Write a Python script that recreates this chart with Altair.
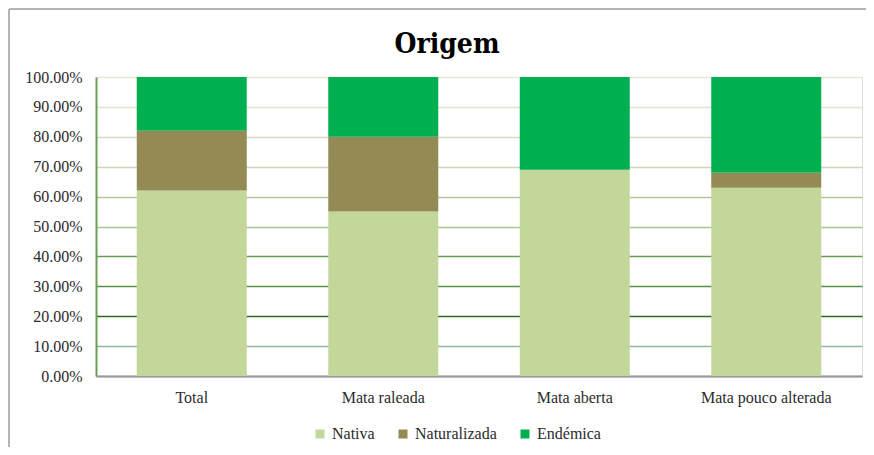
import altair as alt
import pandas as pd

categories = ["Total", "Mata raleada", "Mata aberta", "Mata pouco alterada"]
origins = ["Nativa", "Naturalizada", "Endémica"]
nativa = [0.62, 0.55, 0.69, 0.63]
naturalizada = [0.20, 0.25, 0.00, 0.05]
endemica = [0.18, 0.20, 0.31, 0.32]
colors = ["#c4d79b", "#948a54", "#00b050"]
y_ticks = [0.0, 0.1, 0.2, 0.3, 0.4, 0.5, 0.6, 0.7, 0.8, 0.9, 1.0]
chart_title = "Origem"

rows = []
for series_name, vals in zip(origins, [nativa, naturalizada, endemica]):
    for c, v in zip(categories, vals):
        rows.append({"Categoria": c, "Origem": series_name, "Valor": v})
df = pd.DataFrame(rows)

FONT = "Liberation Serif"
TFONT = "DejaVu Serif Condensed"
LABEL = "#2b2b2b"

grid_cond = [
    {"test": "datum.value > 0.95", "value": "#e3ebd8"},
    {"test": "datum.value > 0.85", "value": "#dbe5cb"},
    {"test": "datum.value > 0.75", "value": "#d3dec0"},
    {"test": "datum.value > 0.65", "value": "#cbd8b4"},
    {"test": "datum.value > 0.55", "value": "#b1c897"},
    {"test": "datum.value > 0.45", "value": "#a6c88c"},
    {"test": "datum.value > 0.35", "value": "#6c9c54"},
    {"test": "datum.value > 0.25", "value": "#579244"},
    {"test": "datum.value > 0.15", "value": "#2e6b1f"},
    {"test": "datum.value > 0.05", "value": "#92b899"},
]

bars = alt.Chart(df).transform_calculate(
    ord="indexof(" + str(origins) + ", datum.Origem)"
).mark_bar(size=110).encode(
    x=alt.X("Categoria:N", sort=categories, title=None,
            scale=alt.Scale(paddingInner=0.42, paddingOuter=0.21),
            axis=alt.Axis(labelAngle=0, ticks=False, tickSize=0, labelPadding=13,
                          labelFont=FONT, labelFontSize=16, labelColor=LABEL,
                          domainColor="#9a9a9a", domainWidth=2, grid=False)),
    y=alt.Y("Valor:Q", stack="zero", title=None,
            scale=alt.Scale(domain=[0, 1], nice=False),
            axis=alt.Axis(values=y_ticks, format=".2%", ticks=False, tickSize=0,
                          labelPadding=14, labelFont=FONT, labelFontSize=16,
                          labelColor=LABEL, domainColor="#6b9e55", domainWidth=2,
                          gridWidth=1.6,
                          gridColor={"condition": grid_cond, "value": "#9a9a9a"})),
    color=alt.Color("Origem:N", sort=origins,
                    scale=alt.Scale(domain=origins, range=colors),
                    legend=alt.Legend(title=None, orient="none", direction="horizontal",
                                      legendX=216, legendY=349, symbolType="square",
                                      symbolSize=81, symbolStrokeWidth=0,
                                      labelFont=FONT, labelFontSize=16, labelColor=LABEL,
                                      labelOffset=4, columnPadding=20, padding=0)),
    order=alt.Order("ord:Q"),
)

one = pd.DataFrame({"t": [chart_title]})

title_text = alt.Chart(one).mark_text(
    font=TFONT, fontSize=28, fontWeight="bold", color="black",
    align="center", baseline="alphabetic"
).encode(x=alt.value(351), y=alt.value(-24), text="t:N")

frame = alt.Chart(one).mark_rule(color="#b4b4b4", strokeWidth=2).encode(
    x=alt.value(-87), y=alt.value(-68), y2=alt.value(375)
)
frame_top = alt.Chart(one).mark_rule(color="#b4b4b4", strokeWidth=2).encode(
    x=alt.value(-87), x2=alt.value(775), y=alt.value(-68)
)

chart = alt.layer(frame, frame_top, bars, title_text).properties(
    width=766, height=299,
    autosize=alt.AutoSizeParams(type="none"),
    padding={"left": 88, "top": 69, "right": 4, "bottom": 71},
).configure_view(stroke=None).configure(background="white")

chart.save("out.html", embed_options={"renderer": "svg", "actions": False})
